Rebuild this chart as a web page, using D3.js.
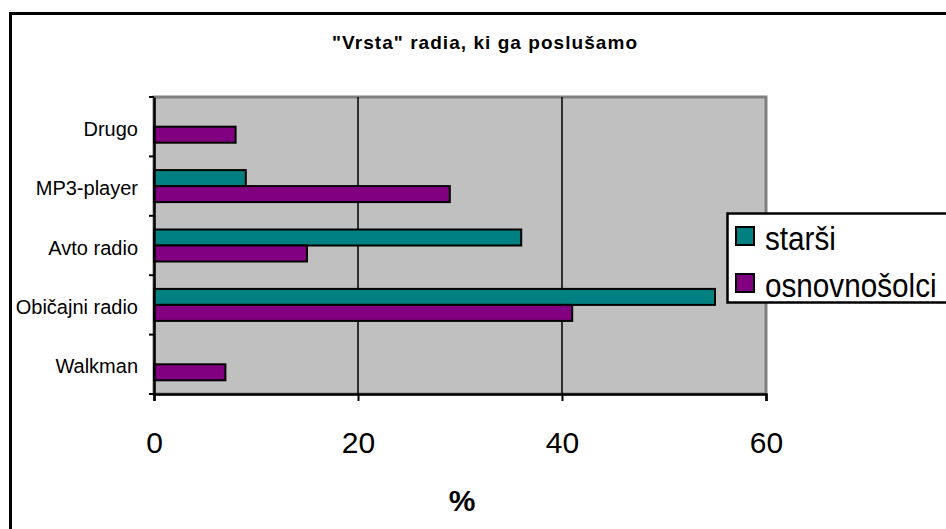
<!DOCTYPE html>
<html>
<head>
<meta charset="utf-8">
<script src="https://cdn.jsdelivr.net/npm/d3@7"></script>
<style>
  body { margin: 0; background: #fff; }
  svg { display: block; font-family: "Liberation Sans", Arial, sans-serif; }
</style>
</head>
<body>
<div id="vis"></div>
<script>
// chart data
const categories = ["Drugo", "MP3-player", "Avto radio", "Običajni radio", "Walkman"];
const seriesNames = ["starši", "osnovnošolci"];
const starsi = [0, 9, 36, 55, 0];
const osnovnosolci = [8, 29, 15, 41, 7];
const xTicks = [0, 20, 40, 60];
const colors = ["#008080", "#800080"];

const width = 946, height = 529;
const plot = { left: 154, right: 766, top: 97, bottom: 394 };

const svg = d3.select("#vis").append("svg")
  .attr("width", width)
  .attr("height", height);

// outer chart frame (runs off canvas right/bottom)
svg.append("rect")
  .attr("x", 10.5).attr("y", 13.5)
  .attr("width", 980).attr("height", 560)
  .attr("fill", "#fff")
  .attr("stroke", "#000")
  .attr("stroke-width", 3);

svg.append("text")
  .attr("x", 484.5).attr("y", 49)
  .attr("text-anchor", "middle")
  .attr("font-size", 19)
  .attr("font-weight", "bold")
  .attr("textLength", 305)
  .attr("lengthAdjust", "spacing")
  .text("\"Vrsta\" radia, ki ga poslušamo");

const x = d3.scaleLinear().domain([0, 60]).range([plot.left, plot.right]);
const y = d3.scaleBand().domain(categories).range([plot.top, plot.bottom]);
const bh = 16;
const ySub = d3.scaleBand().domain(seriesNames)
  .range([y.bandwidth() / 2 - bh, y.bandwidth() / 2 + bh]);

// plot area
svg.append("rect")
  .attr("x", plot.left).attr("y", plot.top)
  .attr("width", plot.right - plot.left).attr("height", plot.bottom - plot.top)
  .attr("fill", "#c0c0c0")
  .attr("stroke", "#808080")
  .attr("stroke-width", 3);

// gridlines
svg.append("g").selectAll("line")
  .data(xTicks.filter(d => d > 0 && d < 60))
  .join("line")
  .attr("x1", d => x(d)).attr("x2", d => x(d))
  .attr("y1", plot.top).attr("y2", plot.bottom)
  .attr("stroke", "#000")
  .attr("stroke-width", 1.5);

// bars
const rows = categories.map((c, i) => ({ cat: c, values: [starsi[i], osnovnosolci[i]] }));
const groups = svg.append("g").selectAll("g")
  .data(rows)
  .join("g")
  .attr("transform", d => `translate(0,${y(d.cat)})`);

groups.selectAll("rect")
  .data(d => d.values.map((v, j) => ({ s: seriesNames[j], v: v, j: j })).filter(e => e.v > 0))
  .join("rect")
  .attr("x", x(0))
  .attr("y", d => ySub(d.s))
  .attr("width", d => x(d.v) - x(0))
  .attr("height", ySub.bandwidth())
  .attr("fill", d => colors[d.j])
  .attr("stroke", "#000")
  .attr("stroke-width", 2);

// x axis
const xAxis = svg.append("g")
  .attr("transform", `translate(0,${plot.bottom})`)
  .call(d3.axisBottom(x).tickValues(xTicks).tickSize(7).tickPadding(31));
xAxis.select(".domain").attr("stroke", "#000").attr("stroke-width", 2.5);
xAxis.selectAll(".tick line").attr("stroke-width", 2);
xAxis.selectAll(".tick text")
  .attr("font-size", 30)
  .attr("font-family", "Liberation Sans, Arial, sans-serif")
  .attr("fill", "#000");

// y axis: labels centered in bands, ticks on band boundaries
const yAxis = svg.append("g")
  .attr("transform", `translate(${plot.left},0)`)
  .call(d3.axisLeft(y).tickSize(0).tickPadding(16));
yAxis.select(".domain").attr("stroke", "#000").attr("stroke-width", 2.5);
yAxis.selectAll(".tick text")
  .attr("font-size", 20)
  .attr("dy", "0.45em")
  .attr("font-family", "Liberation Sans, Arial, sans-serif")
  .attr("fill", "#000");

const bounds = categories.map(c => y(c)).concat([plot.bottom]);
svg.append("g").selectAll("line")
  .data(bounds)
  .join("line")
  .attr("x1", plot.left - 5).attr("x2", plot.left)
  .attr("y1", d => d).attr("y2", d => d)
  .attr("stroke", "#000")
  .attr("stroke-width", 2);

// axis title
svg.append("text")
  .attr("x", 462).attr("y", 511)
  .attr("text-anchor", "middle")
  .attr("font-size", 30)
  .attr("font-weight", "bold")
  .text("%");

// legend
const legend = svg.append("g");
legend.append("rect")
  .attr("x", 727.5).attr("y", 213.5)
  .attr("width", 260).attr("height", 89)
  .attr("fill", "#fff")
  .attr("stroke", "#000")
  .attr("stroke-width", 2.5);

const items = legend.selectAll("g.item")
  .data(seriesNames)
  .join("g")
  .attr("class", "item")
  .attr("transform", (d, i) => `translate(0,${i * 47})`);
items.append("rect")
  .attr("x", 736).attr("y", 227)
  .attr("width", 18).attr("height", 18)
  .attr("fill", (d, i) => colors[i])
  .attr("stroke", "#000")
  .attr("stroke-width", 2);
items.append("text")
  .attr("transform", "translate(765,250) scale(0.9,1)")
  .attr("font-size", 33)
  .text(d => d);
</script>
</body>
</html>
